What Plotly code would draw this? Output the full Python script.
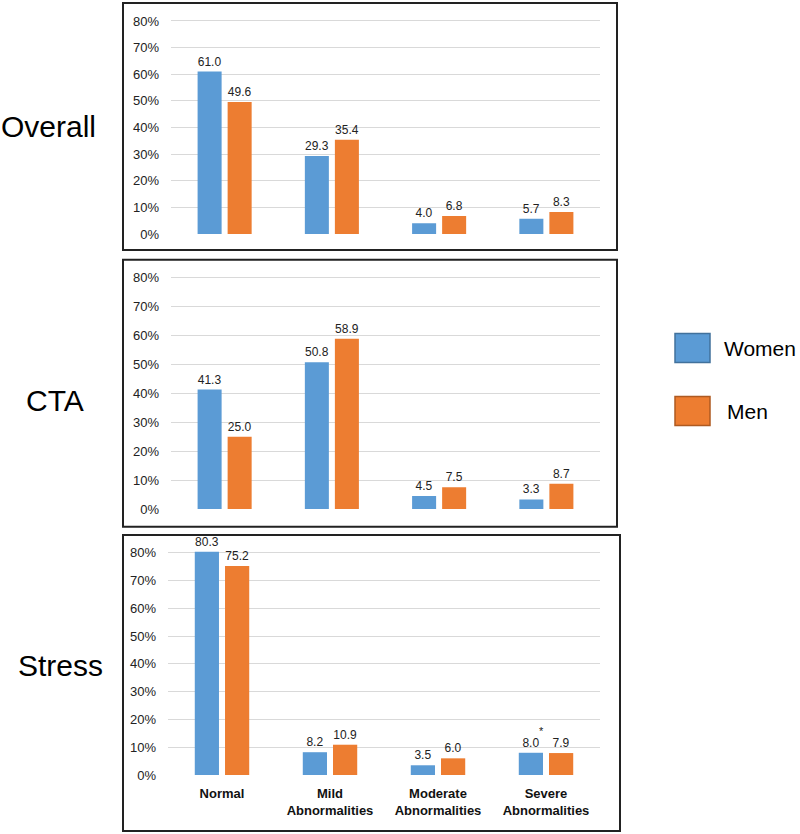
import plotly.graph_objects as go

# categories and series
categories = ["Normal", "Mild<br>Abnormalities", "Moderate<br>Abnormalities", "Severe<br>Abnormalities"]
series_names = ["Women", "Men"]
panel_names = ["Overall", "CTA", "Stress"]

overall_women = [61.0, 29.3, 4.0, 5.7]
overall_men = [49.6, 35.4, 6.8, 8.3]
cta_women = [41.3, 50.8, 4.5, 3.3]
cta_men = [25.0, 58.9, 7.5, 8.7]
stress_women = [80.3, 8.2, 3.5, 8.0]
stress_men = [75.2, 10.9, 6.0, 7.9]

y_ticks = [0, 10, 20, 30, 40, 50, 60, 70, 80]
y_tick_labels = ["0%", "10%", "20%", "30%", "40%", "50%", "60%", "70%", "80%"]

W, H = 800, 834
blue, orange = "#5B9BD5", "#ED7D31"
FONT = "Arial, Liberation Sans, sans-serif"
YMAX = 81


def px_x(x):
    return x / W


def px_y(y):
    return 1 - y / H


# pixel layout of each panel: (plot x0, x1, 80% line, 0% line, box l, r, t, b)
panels = [
    (171, 600, 21, 234, 123, 617, 3, 250),
    (171, 600, 277.7, 509, 123, 617, 259.7, 526.7),
    (168, 600, 552.7, 775, 123, 620, 535, 831),
]
data = [(overall_women, overall_men), (cta_women, cta_men), (stress_women, stress_men)]
label_pos = [(48, 127), (55, 400), (60, 665)]

fig = go.Figure()
shapes = []
annotations = []

for i, (p, (women, men)) in enumerate(zip(panels, data)):
    n = "" if i == 0 else str(i + 1)
    xa, ya = "x" + n, "y" + n
    for name, vals, col in [(series_names[0], women, blue), (series_names[1], men, orange)]:
        fig.add_trace(go.Bar(
            x=categories, y=vals, name=name, xaxis=xa, yaxis=ya,
            marker=dict(color=col, line=dict(width=0)),
            texttemplate="%{y:.1f}", textposition="outside",
            textfont=dict(size=12, color="#222", family=FONT),
            cliponaxis=False, showlegend=False,
        ))
    x0, x1, top, bot, bl, br, bt, bb = p
    # stretch the range a bit above 80 so the 80.3 bar and its label fit
    top_ext = bot - (bot - top) * YMAX / 80
    fig.update_layout(**{
        "xaxis" + n: dict(domain=[px_x(x0), px_x(x1)], anchor=ya, showticklabels=(i == 2),
                          tickfont=dict(size=13, color="#111", family=FONT, weight="bold"),
                          ticklabelstandoff=9, showgrid=False, zeroline=False, showline=False,
                          ticks="", automargin=False),
        "yaxis" + n: dict(domain=[px_y(bot), px_y(top_ext)], anchor=xa, range=[0, YMAX],
                          tickvals=y_ticks, ticktext=y_tick_labels, showgrid=True,
                          gridcolor="#D9D9D9", gridwidth=1.3, zeroline=False,
                          tickfont=dict(size=13, color="#222", family=FONT),
                          ticklabelstandoff=11, showline=False, ticks="", automargin=False),
    })
    shapes.append(dict(type="rect", xref="paper", yref="paper",
                       x0=px_x(bl), x1=px_x(br), y0=px_y(bb), y1=px_y(bt),
                       line=dict(color="#222", width=2), fillcolor="rgba(0,0,0,0)"))
    lx, ly = label_pos[i]
    annotations.append(dict(text=panel_names[i], xref="paper", yref="paper",
                            x=px_x(lx), y=px_y(ly), showarrow=False,
                            xanchor="center", yanchor="middle",
                            font=dict(size=30, color="#000", family=FONT)))

# significance marker above severe / women in stress
annotations.append(dict(text="*", xref="x3", yref="y3", x=categories[3], y=stress_women[3],
                        xshift=-5, yshift=22, showarrow=False,
                        font=dict(size=11, color="#222", family=FONT)))

# legend drawn by hand
legend_rows = [(series_names[0], blue, "#41719C", 348, 722), (series_names[1], orange, "#AE5A21", 411, 725)]
for name, col, edge, cy, tx in legend_rows:
    shapes.append(dict(type="rect", xref="paper", yref="paper",
                       x0=px_x(675), x1=px_x(710), y0=px_y(cy + 14.5), y1=px_y(cy - 14.5),
                       fillcolor=col, line=dict(color=edge, width=1.5)))
    annotations.append(dict(text=name, xref="paper", yref="paper", x=px_x(tx), y=px_y(cy),
                            xanchor="left", yanchor="middle", showarrow=False,
                            font=dict(size=21, color="#000", family=FONT)))

fig.update_layout(
    width=W, height=H, margin=dict(l=0, r=0, t=0, b=0),
    barmode="group", bargap=0.44, bargroupgap=0.2,
    plot_bgcolor="white", paper_bgcolor="white",
    shapes=shapes, annotations=annotations,
    font=dict(family=FONT),
)

# pin the graph to the window corner (no body margin, no stray page height)
pin = ("document.body.style.margin='0px';document.body.style.overflow='hidden';"
       "var gd=document.getElementById('{plot_id}');"
       "gd.style.position='fixed';gd.style.left='0px';gd.style.top='0px';")
fig.write_html("out.html", post_script=pin, config={"displayModeBar": False})
